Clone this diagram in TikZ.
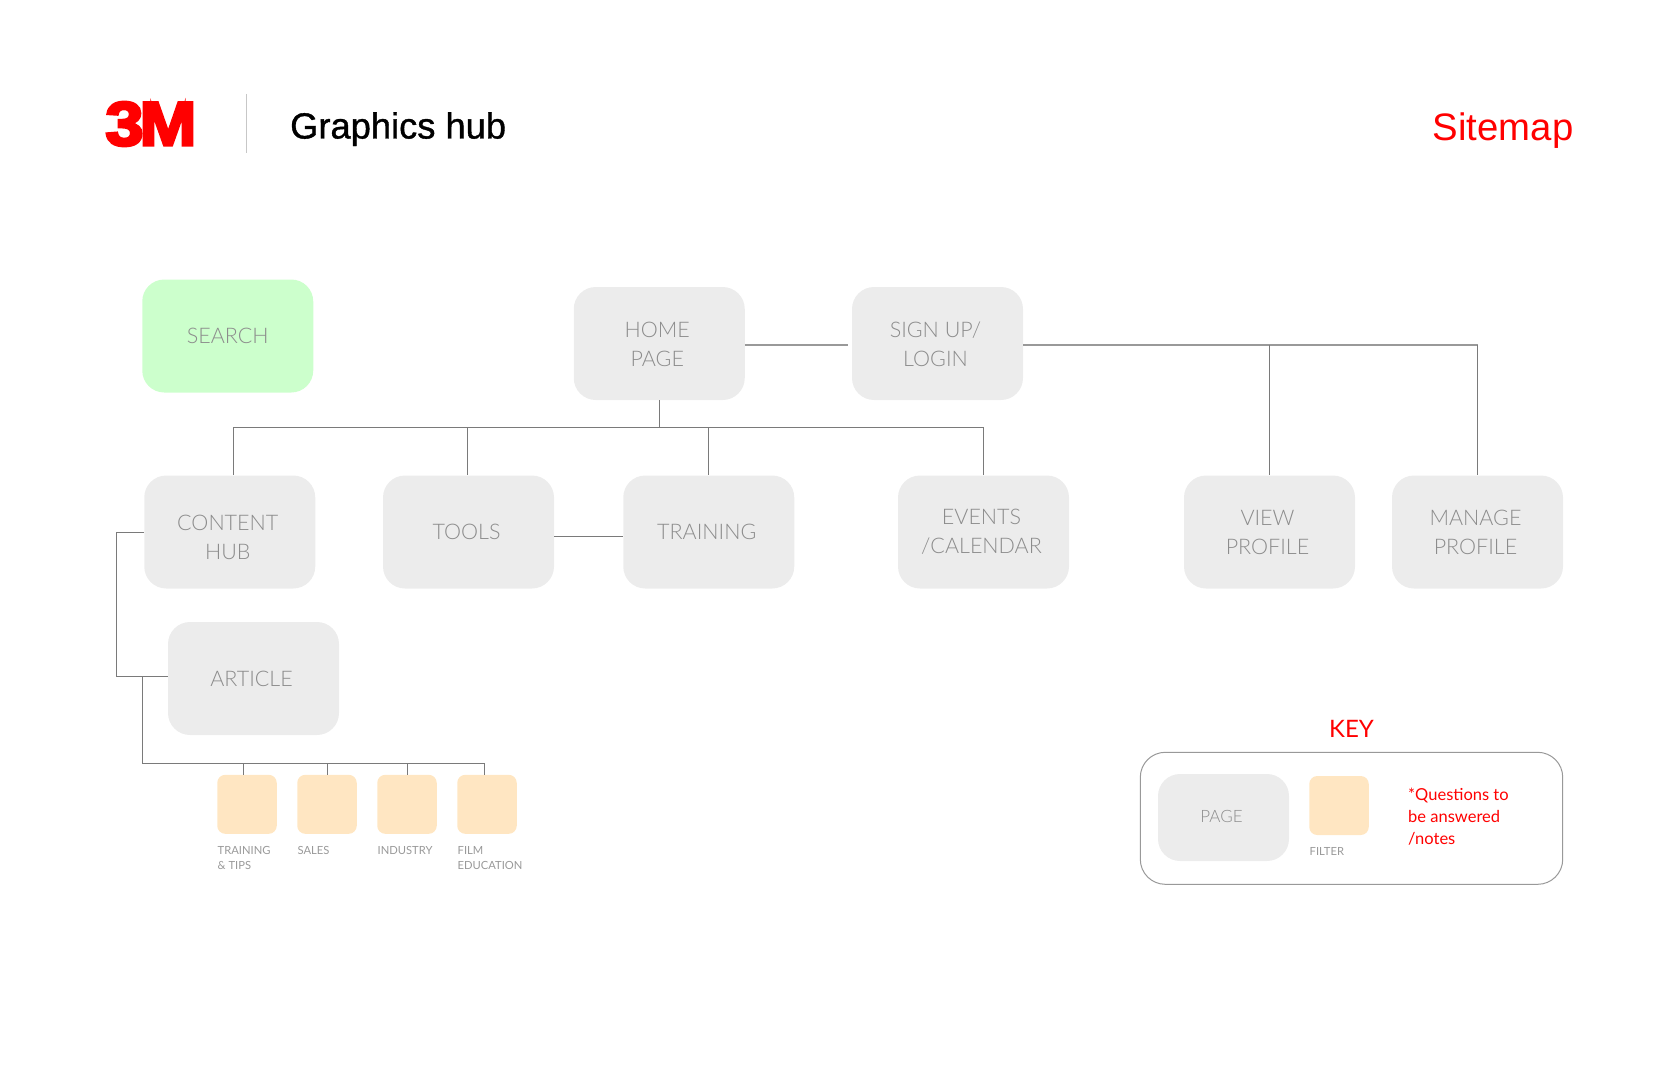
\documentclass[tikz,border=0pt]{standalone}
\usepackage{fontspec}
\setmainfont{Liberation Sans}
\newfontfamily\titlefont[FakeBold=1]{Liberation Sans}
\newfontfamily\boxfont{Lato Light}
\newfontfamily\labelfont{Lato}
\newfontfamily\logofont[FakeBold=4.5]{Liberation Sans Bold}
\definecolor{boxgrey}{HTML}{ECECEC}
\definecolor{filterorange}{HTML}{FFE6C2}
\definecolor{searchgreen}{HTML}{CCFFCC}
\definecolor{textgrey}{HTML}{999999}
\definecolor{boxtextgrey}{HTML}{8C8C8C}
\definecolor{linegrey}{HTML}{7A7A7A}
\definecolor{logored}{HTML}{FF0000}
\tikzset{
	pagebox/.style={fill=boxgrey, rounded corners=22pt, minimum width=171pt, minimum height=113pt, inner sep=0pt},
	pagetext/.style={inner sep=0pt, xshift=-2pt, text=boxtextgrey, align=center, font=\boxfont\fontsize{21.5}{29}\selectfont},
	filterbox/.style={fill=filterorange, rounded corners=8pt, minimum width=59.5pt, minimum height=59pt, inner sep=0pt},
	filterlabel/.style={anchor=north west, inner sep=0pt, text=textgrey, align=left, font=\labelfont\fontsize{11.2}{15}\selectfont},
	link/.style={draw=linegrey, line width=1pt}
}
\begin{document}
\begin{tikzpicture}[x=1pt,y=-1pt]
		\useasboundingbox (0,0) rectangle (1680,1078);
		\node[inner sep=0pt, text=logored, xscale=1.1, transform shape, font=\logofont\fontsize{62}{62}\selectfont] (logo) at (151,124) {3\kern-3.5ptM};
		\coordinate (ruletop) at (246.7,94);
		\coordinate (rulebottom) at (246.7,153);
		\draw[color=black!22, line width=1.5pt] (ruletop) -- (rulebottom);
		\node[anchor=base west, inner sep=0pt, font=\titlefont\fontsize{36.3}{36}\selectfont] (title) at (290,138.5) {Graphics hub};
		\node[anchor=base east, inner sep=0pt, text=logored, font=\fontsize{38.3}{38}\selectfont] (sitemap) at (1573.5,141) {Sitemap};

		\node[pagebox, fill=searchgreen, label={[pagetext, xshift=2pt]center:SEARCH}] (search) at (227.75,336) {};
		\node[pagebox, label={[pagetext, yshift=-1pt]center:{HOME\\PAGE}}] (home) at (659.25,343.5) {};
		\node[pagebox, label={[pagetext, yshift=-1pt]center:{SIGN UP/\\LOGIN}}] (signup) at (937.5,343.5) {};
		\node[pagebox, label={[pagetext, yshift=-5pt]center:{CONTENT\\HUB}}] (content) at (229.75,532) {};
		\node[pagebox, label={[pagetext]center:TOOLS}] (tools) at (468.5,532) {};
		\node[pagebox, label={[pagetext]center:TRAINING}] (training) at (708.75,532) {};
		\node[pagebox, label={[pagetext]center:{EVENTS\\/CALENDAR}}] (events) at (983.5,532) {};
		\node[pagebox, label={[pagetext]center:{VIEW\\PROFILE}}] (view) at (1269.5,532) {};
		\node[pagebox, label={[pagetext]center:{MANAGE\\PROFILE}}] (manage) at (1477.5,532) {};
		\node[pagebox, label={[pagetext]center:ARTICLE}] (article) at (253.5,678.5) {};

		\node[filterbox] (tips) at (247,804.3) {};
		\node[filterbox] (sales) at (327,804.3) {};
		\node[filterbox] (industry) at (407,804.3) {};
		\node[filterbox] (film) at (487,804.3) {};
		\node[filterlabel] (tipslabel) at (217.5,846) {TRAINING\\\& TIPS};
		\node[filterlabel] (saleslabel) at (297.5,846) {SALES};
		\node[filterlabel] (industrylabel) at (377.5,846) {INDUSTRY};
		\node[filterlabel] (filmlabel) at (457.5,846) {FILM\\EDUCATION};

		\coordinate (busleft) at (233.6,427.3);
		\coordinate (busright) at (983.5,427.3);
		\coordinate (toolsdrop) at (467,427.3);
		\coordinate (homeend) at (848,345);
		\coordinate (signupend) at (1477.5,345);
		\coordinate (contentstart) at (144,532.5);
		\coordinate (contentleft) at (116.7,532.5);
		\coordinate (articleleft) at (116.7,676.3);
		\coordinate (articleend) at (168,676.3);
		\coordinate (filterfork) at (142.7,676.3);
		\coordinate (filtercorner) at (142.7,763.3);
		\coordinate (filterend) at (484.3,763.3);
		\coordinate (tipsdrop) at (243.3,763.3);

		\draw[link, color=textgrey, line width=1.5pt] (home.east |- homeend) -- (homeend);
		\draw[link, color=textgrey, line width=1.2pt] (signup.east |- signupend) -- (signupend);
		\draw[link] (home.south) -- (home.south |- busleft);
		\draw[link] (busleft) -- (busright);
		\draw[link] (busleft) -- (busleft |- content.north);
		\draw[link] (toolsdrop) -- (toolsdrop |- tools.north);
		\draw[link] (training.north |- busleft) -- (training.north);
		\draw[link] (busright) -- (events.north);
		\draw[link] (view.north |- signupend) -- (view.north);
		\draw[link] (signupend) -- (manage.north);
		\draw[link] (tools.east |- 0,536) -- (training.west |- 0,536);
		\draw[link] (contentstart) -- (contentleft) -- (articleleft) -- (articleend);
		\draw[link] (filterfork) -- (filtercorner) -- (filterend);
		\draw[link] (tipsdrop) -- (tipsdrop |- tips.north);
		\draw[link] (sales.north |- filterend) -- (sales.north);
		\draw[link] (industry.north |- filterend) -- (industry.north);
		\draw[link] (filterend) -- (filterend |- film.north);

		\node[inner sep=0pt, text=logored, font=\labelfont\fontsize{24}{24}\selectfont] (keytitle) at (1351.5,728.5) {KEY};
		\draw[draw=textgrey, line width=1pt, rounded corners=25pt] (1140.3,752.3) rectangle (1562.7,884.3);
		\node[pagebox, minimum width=131pt, minimum height=87pt, label={[pagetext, yshift=1pt, font=\boxfont\fontsize{17}{20}\selectfont]center:PAGE}] (keypage) at (1223.5,817.5) {};
		\node[filterbox] (keyfilter) at (1339,805.5) {};
		\node[filterlabel] (keyfilterlabel) at (1309.5,847) {FILTER};
		\node[anchor=north west, inner sep=0pt, text=logored, align=left, font=\labelfont\fontsize{16.5}{22}\selectfont] (keynote) at (1408,788) {*Questions to\\be answered\\/notes};
\end{tikzpicture}
\end{document}
